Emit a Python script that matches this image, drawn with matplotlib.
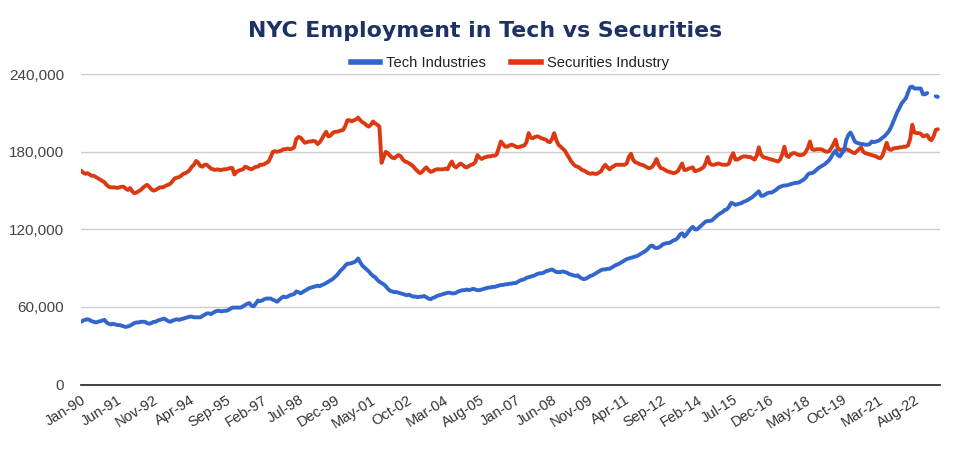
import numpy as np
import matplotlib
matplotlib.use("Agg")
import matplotlib.pyplot as plt
from matplotlib.lines import Line2D

# Monthly NYC employment (thousands), Jan 1990 .. Jul 2023
tech = [
    48.5, 49.5, 50, 50.5, 50, 49, 48.5, 48, 48.5, 49, 49.5, 50,            # 1990
    48, 47, 46.5, 47, 46.5, 46, 46, 45.5, 45, 44.5, 45, 45.5,             # 1991
    46.5, 47.5, 48, 48, 48.5, 48.5, 48.5, 47.5, 47, 47.5, 48.5, 48.5,     # 1992
    49.5, 50, 50.5, 51, 50, 49, 48.5, 49.5, 50, 50.5, 50, 50.5,           # 1993
    51, 51.5, 52, 52.5, 52.5, 52, 52, 52, 52, 53, 54, 55,                 # 1994
    55, 54.5, 55.5, 56.5, 57, 57, 56.5, 57, 57, 57.5, 58.5, 59.5,         # 1995
    59.5, 59.5, 59.5, 59.5, 60.5, 61.5, 62.5, 63, 61, 60.5, 62.5, 65,     # 1996
    64.5, 65, 66, 66.5, 66.5, 66.5, 65.5, 65, 64, 65.5, 67, 68,           # 1997
    67.5, 68, 69, 69.5, 70, 72, 71.5, 70.5, 71.5, 72.5, 73.5, 74.5,       # 1998
    75, 75.5, 76, 76.5, 76, 77, 77.5, 78.5, 79.5, 80.5, 81.5, 83,         # 1999
    84.5, 86.5, 88.5, 90, 92, 93.5, 93.5, 94, 94.5, 95.5, 97.5, 94.5,     # 2000
    92, 90.5, 89, 87.5, 85.5, 84, 83, 81, 79.5, 78.5, 77.5, 76,           # 2001
    74, 72.5, 72, 71.5, 71.5, 71, 70.5, 70, 69.5, 69, 69.5, 68.5,         # 2002
    68, 68, 67.5, 68, 68, 68.5, 67.5, 66.5, 66, 67, 67.5, 68.5,           # 2003
    69, 69.5, 70, 70.5, 71, 71, 70.5, 70.5, 71, 72, 72.5, 73,             # 2004
    73, 73.5, 73, 73.5, 74, 73.5, 73, 73, 73.5, 74, 74.5, 75,             # 2005
    75, 75.5, 75.5, 76, 76.5, 77, 77, 77.5, 77.5, 78, 78, 78.5,           # 2006
    78.5, 79.5, 80.5, 81, 81.5, 82.5, 83, 83.5, 84, 84.5, 85.5, 86,       # 2007
    86, 86.5, 87.5, 88, 88.5, 89, 88, 87, 87, 87, 87.5, 87,               # 2008
    86.5, 85.5, 85, 84.5, 84, 84.5, 83, 82, 81.5, 82, 83, 84,             # 2009
    84.5, 85.5, 86.5, 87.5, 88.5, 89, 89, 89.5, 89.5, 90.5, 91.5, 92.5,   # 2010
    93, 94, 95, 96, 97, 97.5, 98, 98.5, 99, 99.5, 100.5, 101.5,           # 2011
    102.5, 103.5, 105, 107, 107.5, 106, 105.5, 106, 107, 108.5, 109, 109.5,  # 2012
    109.5, 110.5, 111.5, 112, 113.5, 116, 117, 114.5, 116, 118.5, 120.5, 122,  # 2013
    120, 120, 121.5, 123, 124.5, 126, 126.5, 126.5, 127, 128.5, 130, 131.5,  # 2014
    132.5, 133.5, 135, 135.5, 137.5, 140.5, 140, 139, 139.5, 140, 140.5, 141.5,  # 2015
    142, 143, 144, 145, 146.5, 148, 149.5, 146, 146, 147, 148, 148.5,     # 2016
    148.5, 149.5, 150.5, 152, 153, 153.5, 154, 154, 154.5, 155, 155.5, 156,  # 2017
    156, 156.5, 157.5, 158.5, 160, 162.5, 163.5, 163.5, 164.5, 166, 167.5, 168.5,  # 2018
    169.5, 170.5, 172, 173.5, 176, 179, 181, 177.5, 176.5, 179, 181, 189,  # 2019
    193, 195, 192, 188, 187, 186.5, 186, 186, 185.5, 185.5, 186, 188,     # 2020
    187.5, 188, 188.5, 189.5, 191, 192, 194, 196, 199, 203, 207, 211,     # 2021
    214, 217.5, 219.5, 221.5, 226, 230, 230.5, 229, 229, 229, 229, 224.5,  # 2022
    224.5, 225.5, np.nan, np.nan, np.nan, 223, 222.5,                      # 2023
]

securities = [
    165.5, 164, 163, 163.5, 162.5, 161.5, 161.5, 160.5, 159.5, 158.5, 157.5, 156.5,  # 1990
    154.5, 153, 152.5, 152.5, 152.5, 152, 152.5, 153, 153, 151.5, 150.5, 152,  # 1991
    149.5, 148, 148.5, 149.5, 150.5, 152, 153.5, 154.5, 153, 151, 150, 150.5,  # 1992
    151.5, 152.5, 152.5, 153, 154, 154.5, 155.5, 157.5, 159.5, 160, 160.5, 161.5,  # 1993
    163, 163.5, 164.5, 166, 168.5, 170, 173, 171.5, 169, 168.5, 170, 170,  # 1994
    168.5, 167, 166.5, 166, 166.5, 166, 166, 166.5, 166.5, 167, 167.5, 167.5,  # 1995
    162.5, 164.5, 165.5, 166, 166.5, 168.5, 168, 167, 166.5, 167.5, 168.5, 168.5,  # 1996
    170, 170, 170.5, 171.5, 172.5, 176, 180, 180.5, 180, 180.5, 181, 182,  # 1997
    182, 182.5, 182, 182.5, 183.5, 190, 191.5, 191, 189, 187, 187.5, 188,  # 1998
    188, 188.5, 188, 186, 187.5, 190, 193, 195.5, 192, 192.5, 194.5, 195.5,  # 1999
    195.5, 196, 196.5, 197, 200, 204.5, 204.5, 203.5, 204.5, 205, 206.5, 204.5,  # 2000
    203, 202, 200.5, 199.5, 201, 203.5, 202, 201, 199.5, 171.5, 176, 180,  # 2001
    179, 177, 175.5, 175, 176.5, 177.5, 176.5, 174, 172.5, 172, 171, 170,  # 2002
    168.5, 166.5, 165, 163.5, 164.5, 166.5, 168, 166, 164.5, 165, 166, 166.5,  # 2003
    166.5, 166.5, 166.5, 167, 166.5, 170, 172.5, 169, 168, 169.5, 171, 170,  # 2004
    168.5, 168, 169, 170, 170.5, 172, 177.5, 175.5, 174.5, 175.5, 176, 176.5,  # 2005
    176.5, 177, 177, 178, 183, 188, 186, 184, 184, 185, 185.5, 185,       # 2006
    184, 183.5, 184, 184.5, 185, 187.5, 194.5, 191, 190.5, 191.5, 192, 191.5,  # 2007
    190.5, 190, 189.5, 188, 187.5, 190, 194.5, 189, 185.5, 184, 182.5, 181,  # 2008
    178, 175.5, 172.5, 170.5, 169, 168.5, 167.5, 166, 165.5, 164.5, 163.5, 163,  # 2009
    163.5, 163, 163, 164, 165, 168, 170, 168, 166.5, 168, 169, 170,       # 2010
    170, 170, 170, 170, 171, 176, 178.5, 174, 172, 171.5, 170.5, 170,     # 2011
    169.5, 168.5, 167.5, 167.5, 168.5, 171, 174.5, 170, 167.5, 167, 166, 165,  # 2012
    164.5, 164, 163.5, 164, 165, 168, 171, 166, 166, 167, 167.5, 168,     # 2013
    165, 165.5, 166, 167, 168, 171, 176, 171, 170, 170, 170.5, 171,       # 2014
    170.5, 170, 170, 170, 171, 176, 179, 174, 174, 175, 176, 176.5,       # 2015
    176.5, 176, 176, 175, 174, 177, 183.5, 178, 176, 175.5, 175, 174.5,   # 2016
    174, 173.5, 173, 172.5, 174, 178, 184, 177, 176, 178, 179, 179,       # 2017
    178, 177.5, 177.5, 178, 180, 183, 188, 182, 181.5, 182, 182, 182,     # 2018
    181.5, 180.5, 180, 180.5, 183, 186, 189.5, 183, 181.5, 181.5, 182, 182,  # 2019
    181.5, 180.5, 179.5, 179, 180.5, 182, 183.5, 180, 179, 178.5, 178, 177.5,  # 2020
    177, 176.5, 175.5, 175, 177, 182, 187, 182, 181.5, 182.5, 183, 183,   # 2021
    183.5, 183.5, 184, 184, 185, 190, 201, 195, 194.5, 194.5, 194, 192,   # 2022
    192.5, 193, 190, 189, 192, 197, 197.5,                                 # 2023
]

tick_labels = ["Jan-90", "Jun-91", "Nov-92", "Apr-94", "Sep-95", "Feb-97",
               "Jul-98", "Dec-99", "May-01", "Oct-02", "Mar-04", "Aug-05",
               "Jan-07", "Jun-08", "Nov-09", "Apr-11", "Sep-12", "Feb-14",
               "Jul-15", "Dec-16", "May-18", "Oct-19", "Mar-21", "Aug-22"]
y_ticks = [0, 60000, 120000, 180000, 240000]

series_names = ["Tech Industries", "Securities Industry"]
series_colors = ["#3366cc", "#dc3912"]

MONTHS = ["Jan", "Feb", "Mar", "Apr", "May", "Jun",
          "Jul", "Aug", "Sep", "Oct", "Nov", "Dec"]


def month_index(label):
    mon, yy = label.split("-")
    year = 1900 + int(yy) if int(yy) >= 50 else 2000 + int(yy)
    return (year - 1990) * 12 + MONTHS.index(mon)


x = np.arange(len(tech))
tech_v = np.array(tech, dtype=float) * 1000
sec_v = np.array(securities, dtype=float) * 1000

fig = plt.figure(figsize=(9.6, 4.49), dpi=100)
ax = fig.add_axes([81 / 960, 1 - 384.5 / 449, (940 - 81) / 960, (384.5 - 74.3) / 449])

lw = 2.8
ax.plot(x, tech_v, color=series_colors[0], lw=lw, solid_joinstyle="round",
        solid_capstyle="round", zorder=3)
ax.plot(x, sec_v, color=series_colors[1], lw=lw, solid_joinstyle="round",
        solid_capstyle="round", zorder=2)

ax.set_xlim(0, 403)
ax.set_ylim(0, 240000)
ax.set_yticks(y_ticks)
ax.set_yticklabels([f"{v:,}" for v in y_ticks])
ax.grid(axis="y", color="#cccccc", lw=1)
ax.set_axisbelow(True)
for s in ["top", "right", "left"]:
    ax.spines[s].set_visible(False)
ax.spines["bottom"].set_color("#333333")
ax.spines["bottom"].set_linewidth(1.3)
ax.spines["bottom"].set_zorder(4)

ax.set_xticks([month_index(l) for l in tick_labels])
ax.set_xticklabels(tick_labels, rotation=32, ha="right", rotation_mode="anchor",
                   fontsize=10.5, color="#333333", family="Liberation Sans")
ax.tick_params(axis="x", length=0, pad=6)
ax.tick_params(axis="y", length=0, pad=12, labelsize=11, labelcolor="#444444")
for t in ax.get_yticklabels():
    t.set_family("Liberation Sans")

fig.text(0.505, 0.932, "NYC Employment in Tech vs Securities", ha="center",
         va="center", fontsize=15.8, fontweight="bold", color="#1c3266",
         family="DejaVu Sans")

handles = [Line2D([], [], color=c, lw=4) for c in series_colors]
fig.legend(handles, series_names, loc="center", bbox_to_anchor=(0.531, 0.859),
           ncol=2, frameon=False, handlelength=2.0, handletextpad=0.4,
           columnspacing=1.7, prop={"family": "Liberation Sans", "size": 10.6},
           labelcolor="#222222")

fig.savefig("out.png", dpi=100)
